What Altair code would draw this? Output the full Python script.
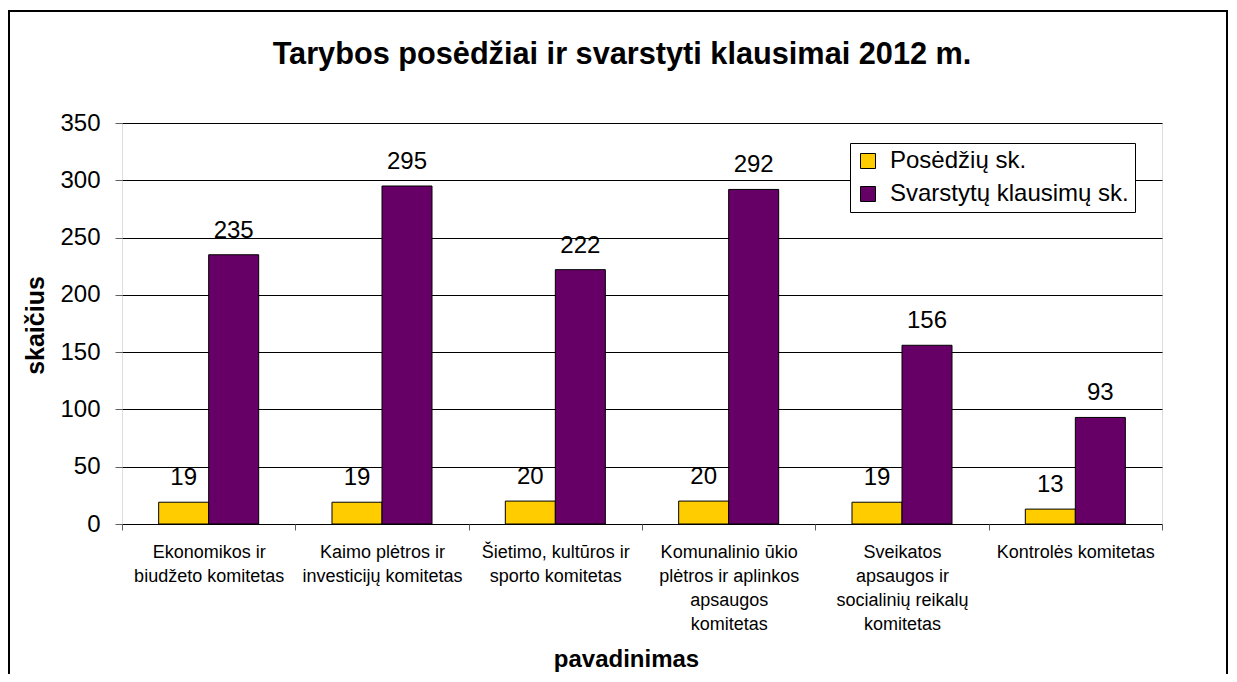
import altair as alt
import pandas as pd

categories = [
    "Ekonomikos ir|biudžeto komitetas",
    "Kaimo plėtros ir|investicijų komitetas",
    "Šietimo, kultūros ir|sporto komitetas",
    "Komunalinio ūkio|plėtros ir aplinkos|apsaugos|komitetas",
    "Sveikatos|apsaugos ir|socialinių reikalų|komitetas",
    "Kontrolės komitetas",
]
posedziu = [19, 19, 20, 20, 19, 13]
klausimu = [235, 295, 222, 292, 156, 93]
series = ["Posėdžių sk.", "Svarstytų klausimų sk."]
colors = ["#FFCC00", "#660066"]
y_ticks = [0, 50, 100, 150, 200, 250, 300, 350]

rows = []
for c, a, b in zip(categories, posedziu, klausimu):
    rows.append({"cat": c, "series": series[0], "value": a})
    rows.append({"cat": c, "series": series[1], "value": b})
df = pd.DataFrame(rows)

FONT = "Liberation Sans"

x_enc = alt.X(
    "cat:N",
    sort=categories,
    scale=alt.Scale(paddingInner=0, paddingOuter=0),
    axis=alt.Axis(
        title="pavadinimas",
        titleFont=FONT, titleFontSize=24, titleFontWeight="bold", titleColor="black",
        titleX=504, titleY=142, titleBaseline="alphabetic", titleAnchor="middle", titleAlign="center",
        labelExpr="split(datum.label, '|')",
        labelFont=FONT, labelFontSize=18, labelColor="black", labelLineHeight=24,
        labelAngle=0, labelBaseline="top", labelPadding=13, labelAlign="center",
        tickBand="extent", tickSize=6, tickColor="#606060",
        domain=False, grid=False,
    ),
)
y_enc = alt.Y(
    "value:Q",
    scale=alt.Scale(domain=[0, 350], nice=False),
    axis=alt.Axis(
        title="skaičius",
        titleFont=FONT, titleFontSize=25, titleFontWeight="bold", titleColor="black",
        titleX=-79, titleY=202, titleBaseline="alphabetic", titleAngle=-90, titleAlign="center",
        values=y_ticks,
        labelFont=FONT, labelFontSize=24, labelColor="black", labelPadding=15,
        tickSize=7, tickColor="#606060",
        domain=False, grid=True, gridColor="black", gridWidth=1,
    ),
)
xo_enc = alt.XOffset("series:N", sort=series, scale=alt.Scale(paddingOuter=0.733, paddingInner=0))

bars = alt.Chart(df).mark_bar(stroke="black", strokeWidth=1).encode(
    x=x_enc,
    xOffset=xo_enc,
    y=y_enc,
    color=alt.Color(
        "series:N",
        sort=series,
        scale=alt.Scale(domain=series, range=colors),
        legend=alt.Legend(
            title=None, orient="none", legendX=728, legendY=20,
            fillColor="white", strokeColor="black", padding=6,
            symbolType="square", symbolSize=225, symbolStrokeColor="black", symbolStrokeWidth=1,
            labelFont=FONT, labelFontSize=24, labelColor="black", labelOffset=10,
            labelLimit=400, rowPadding=9, symbolOpacity=1,
        ),
    ),
)

labels = alt.Chart(df).mark_text(
    dy=-17, baseline="alphabetic", fontSize=24, font=FONT, color="black"
).encode(
    x=x_enc,
    xOffset=xo_enc,
    y=y_enc,
    text=alt.Text("value:Q"),
)

frame = alt.Chart(pd.DataFrame({"a": [0]})).mark_rect(
    fill=None, stroke="black", strokeWidth=2
).encode(
    x=alt.value(-113), x2=alt.value(1105), y=alt.value(-112), y2=alt.value(620)
)

chart = alt.layer(frame, bars, labels).properties(
    width=1040,
    height=401,
    autosize="none",
    padding={"left": 114, "top": 115, "right": 67, "bottom": 150},
    title=alt.Title(
        "Tarybos posėdžiai ir svarstyti klausimai 2012 m.",
        font=FONT, fontSize=30.7, fontWeight="bold", color="black",
        anchor="middle", baseline="alphabetic", offset=-85, dx=-20,
    ),
).configure_view(
    fill="#C0C0C0", stroke="#808080", strokeWidth=2
).configure(background="white")

chart.save("out.html", embed_options={"renderer": "svg", "actions": False})
